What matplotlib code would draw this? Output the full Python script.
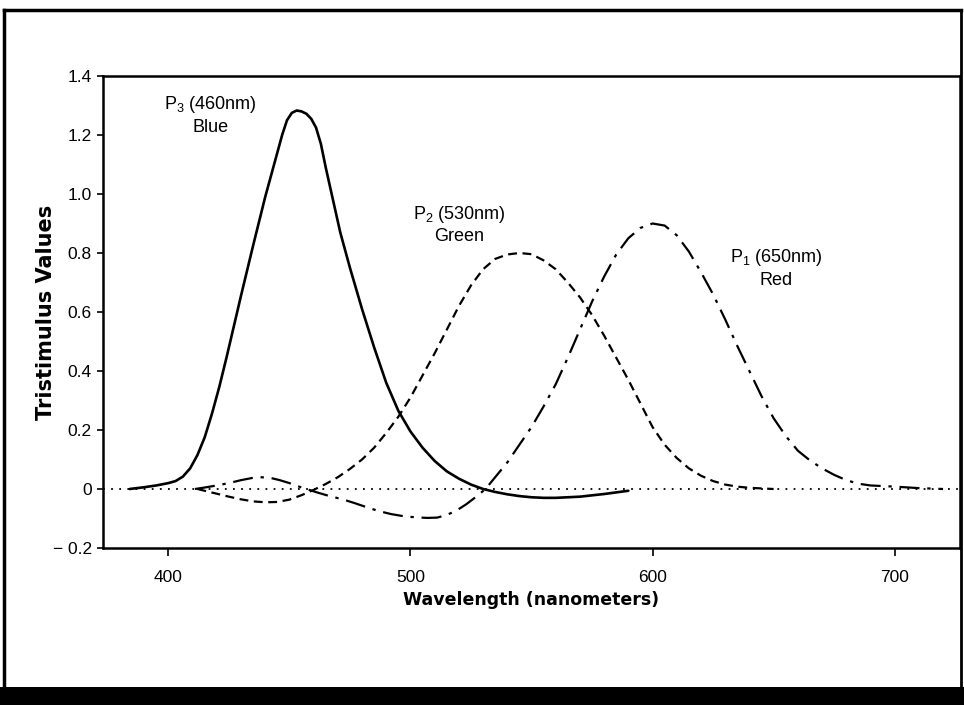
import matplotlib
matplotlib.use("Agg")
import matplotlib.pyplot as plt
from matplotlib.patches import Rectangle
from matplotlib.lines import Line2D

plt.rcParams['font.family'] = ['Liberation Sans', 'DejaVu Sans']

# Blue primary (solid)
wl_blue = [384, 390, 395, 400, 403, 406, 409, 412, 415, 418, 421, 424, 427, 430, 435, 440,
           444, 447, 449, 451, 453, 455, 457, 459, 461, 463, 465, 468, 471, 475, 480, 485,
           490, 495, 500, 505, 510, 515, 520, 525, 530, 535, 540, 545, 550, 555, 560, 570,
           580, 590]
val_blue = [0.0, 0.006, 0.012, 0.02, 0.027, 0.042, 0.07, 0.115, 0.175, 0.255, 0.345, 0.445, 0.55, 0.655, 0.825, 0.99,
            1.11, 1.2, 1.25, 1.275, 1.283, 1.28, 1.272, 1.255, 1.225, 1.17, 1.09, 0.98, 0.87, 0.75, 0.61, 0.48,
            0.36, 0.265, 0.195, 0.14, 0.095, 0.06, 0.035, 0.015, 0.0, -0.01, -0.018, -0.024, -0.028, -0.03, -0.03, -0.026,
            -0.017, -0.006]

# Green primary (dashed)
wl_green = [412, 416, 420, 425, 430, 435, 440, 445, 450, 455, 460, 465, 470, 475, 480, 485,
            490, 495, 500, 505, 510, 515, 520, 525, 530, 535, 540, 545, 550, 555, 560, 565,
            570, 575, 580, 585, 590, 595, 600, 605, 610, 615, 620, 625, 630, 635, 640, 650]
val_green = [0.0, -0.008, -0.016, -0.026, -0.035, -0.042, -0.045, -0.044, -0.036, -0.021, -0.003, 0.017, 0.04, 0.068, 0.10, 0.14,
             0.19, 0.245, 0.31, 0.385, 0.46, 0.54, 0.62, 0.69, 0.745, 0.78, 0.795, 0.80, 0.796, 0.775, 0.745, 0.70,
             0.65, 0.59, 0.52, 0.445, 0.37, 0.29, 0.21, 0.15, 0.105, 0.07, 0.045, 0.027, 0.015, 0.008, 0.004, 0.0]

# Red primary (dash-dot)
wl_red = [411, 415, 420, 425, 430, 435, 438, 442, 446, 450, 454, 457, 462, 467, 472, 477,
          482, 487, 492, 497, 502, 507, 511, 515, 519, 523, 527, 531, 535, 540, 545, 550,
          555, 560, 565, 570, 575, 580, 585, 590, 595, 600, 605, 610, 615, 620, 625, 630,
          635, 640, 645, 650, 655, 660, 665, 670, 675, 680, 685, 690, 700, 710, 720]
val_red = [0.0, 0.005, 0.012, 0.02, 0.03, 0.038, 0.04, 0.038, 0.03, 0.02, 0.008, 0.0, -0.013, -0.025, -0.035, -0.048,
           -0.062, -0.075, -0.085, -0.092, -0.096, -0.098, -0.097, -0.088, -0.073, -0.052, -0.027, 0.0, 0.04, 0.09, 0.15, 0.21,
           0.28, 0.355, 0.445, 0.54, 0.635, 0.72, 0.795, 0.85, 0.885, 0.90, 0.893, 0.86, 0.805, 0.735, 0.66, 0.575,
           0.485, 0.40, 0.315, 0.24, 0.18, 0.13, 0.097, 0.07, 0.048, 0.03, 0.018, 0.012, 0.008, 0.003, 0.0]

xticks = [400, 500, 600, 700]
yticks = [-0.2, 0.0, 0.2, 0.4, 0.6, 0.8, 1.0, 1.2, 1.4]
yticklabels = ['\u2212 0.2', '0', '0.2', '0.4', '0.6', '0.8', '1.0', '1.2', '1.4']

fig = plt.figure(figsize=(9.64, 7.05), dpi=100)
fig.patch.set_facecolor('white')

# outer frame and black bottom bar
fig.add_artist(Rectangle((0, 0), 1, 18 / 705, transform=fig.transFigure,
                         facecolor='black', edgecolor='none', zorder=5))
fig.add_artist(Line2D([4 / 964, 4 / 964], [18 / 705, 1 - 10 / 705], transform=fig.transFigure,
                      color='black', lw=2.5))
fig.add_artist(Line2D([4 / 964, 961 / 964], [1 - 10 / 705, 1 - 10 / 705], transform=fig.transFigure,
                      color='black', lw=2.5))
fig.add_artist(Line2D([961 / 964, 961 / 964], [18 / 705, 1 - 10 / 705], transform=fig.transFigure,
                      color='black', lw=2.0))

ax = fig.add_axes([103 / 964, 1 - 548 / 705, (960 - 103) / 964, (548 - 76) / 705])
ax.set_xlim(373, 727)
ax.set_ylim(-0.2, 1.4)

ax.axhline(0, color='black', lw=1.3, ls=(0, (1, 3.5)), zorder=1)
ax.plot(wl_blue, val_blue, color='black', lw=1.9, solid_capstyle='round', solid_joinstyle='round')
ax.plot(wl_green, val_green, color='black', lw=1.6, ls=(0, (4, 2.5)))
ax.plot(wl_red, val_red, color='black', lw=1.6, ls=(0, (9, 3.5, 1.5, 3.5)))

for s in ax.spines.values():
    s.set_linewidth(1.8)

ax.set_xticks(xticks)
ax.set_yticks(yticks)
ax.set_yticklabels(yticklabels)
ax.tick_params(axis='both', direction='out', width=1.2, labelsize=12.5, colors='black')
ax.tick_params(axis='x', length=6, pad=10)
ax.tick_params(axis='y', length=4, pad=4)

ax.set_xlabel('Wavelength (nanometers)', fontsize=12.5, fontweight='bold',
              family=['DejaVu Sans'], labelpad=4)
ax.set_ylabel('Tristimulus Values', fontsize=15, fontweight='bold',
              family=['DejaVu Sans'], labelpad=-2)

ax.text(417.5, 1.305, r'$\mathregular{P_3}$ (460nm)', fontsize=13, ha='center', va='center')
ax.text(417.5, 1.224, 'Blue', fontsize=13, ha='center', va='center')
ax.text(520, 0.93, r'$\mathregular{P_2}$ (530nm)', fontsize=13, ha='center', va='center')
ax.text(520, 0.855, 'Green', fontsize=13, ha='center', va='center')
ax.text(651, 0.786, r'$\mathregular{P_1}$ (650nm)', fontsize=13, ha='center', va='center')
ax.text(651, 0.708, 'Red', fontsize=13, ha='center', va='center')

fig.savefig('out.png', dpi=100, facecolor='white')
